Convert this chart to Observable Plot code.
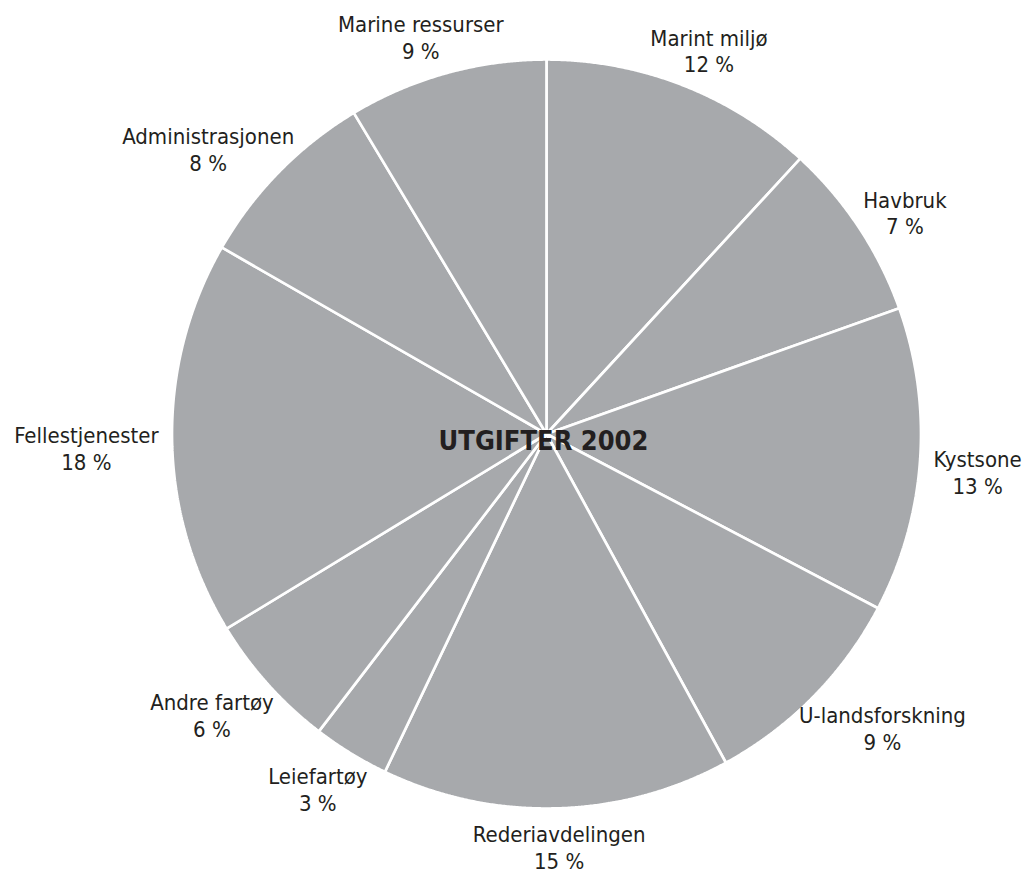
<!DOCTYPE html>
<html>
<head>
<meta charset="utf-8">
<script src="https://cdn.jsdelivr.net/npm/d3@7"></script>
<script src="https://cdn.jsdelivr.net/npm/@observablehq/plot@0.6"></script>
<style>
  html, body { margin: 0; padding: 0; background: #fff; }
  g[aria-label="title"] text { letter-spacing: 2.5px; }
</style>
</head>
<body>
<div id="chart"></div>
<script>
// ---- data (clockwise from 12 o'clock) ----
const categories = ["Marint miljø", "Havbruk", "Kystsone", "U-landsforskning", "Rederiavdelingen",
                    "Leiefartøy", "Andre fartøy", "Fellestjenester", "Administrasjonen", "Marine ressurser"];
const values = [11.85, 7.7, 13.15, 9.35, 15.05, 3.3, 5.9, 17.0, 8.1, 8.6];   // slice sizes
const shares = [12, 7, 13, 9, 15, 3, 6, 18, 8, 9];                          // printed percentages
const chartTitle = "UTGIFTER 2002";

// ---- layout ----
const W = 1030, H = 879, CX = 546, CY = 433.5, R = 374.5;
const FONT = '"Liberation Sans Narrow", "DejaVu Sans Condensed", sans-serif';
const LABEL_SIZE = 22, LABEL_RADIUS = 388, HALF_BLOCK = 25, LABEL_DY = 9;

const rows = categories.map((name, i) => ({name, value: values[i], share: shares[i]}));
const arcs = d3.pie().sort(null).value(d => d.value)(rows);

// slice outlines in unit-circle space (angle 0 at top, clockwise)
const outline = arcs.flatMap(a => {
  const n = Math.max(2, Math.ceil((a.endAngle - a.startAngle) / 0.004));
  const pts = [{name: a.data.name, x: 0, y: 0}];
  for (let k = 0; k <= n; k++) {
    const t = a.startAngle + (a.endAngle - a.startAngle) * k / n;
    pts.push({name: a.data.name, x: Math.sin(t), y: Math.cos(t)});
  }
  pts.push({name: a.data.name, x: 0, y: 0});
  return pts;
});

// label placement: point on the mid-angle ray just outside the rim,
// shifted outward by the label block's half extents
const ctx = document.createElement("canvas").getContext("2d");
ctx.font = `${LABEL_SIZE}px ${FONT}`;
const labels = arcs.map(a => {
  const mid = (a.startAngle + a.endAngle) / 2;
  const s = Math.sin(mid), c = Math.cos(mid);
  const pct = `${a.data.share} %`;
  const hw = Math.max(ctx.measureText(a.data.name).width, ctx.measureText(pct).width) / 2;
  const px = s * LABEL_RADIUS + hw * s;
  const py = c * LABEL_RADIUS + HALF_BLOCK * c - LABEL_DY * Math.abs(s) ** 2;   // y up in data space
  return {x: px / R, y: py / R, text: `${a.data.name}\n${pct}`};
});

const chart = Plot.plot({
  width: W,
  height: H,
  margin: 0,
  x: {domain: [-1, 1], range: [CX - R, CX + R], axis: null},
  y: {domain: [-1, 1], range: [CY + R, CY - R], axis: null},
  style: {fontFamily: FONT, background: "#fff", overflow: "visible"},
  marks: [
    Plot.line(outline, {x: "x", y: "y", z: "name", fill: "#a7a9ac", stroke: "#fff",
                        strokeWidth: 2.7, strokeLinejoin: "miter"}),
    Plot.text(labels, {x: "x", y: "y", text: "text", fontSize: LABEL_SIZE, lineHeight: 1.22,
                       fill: "#231f20", textAnchor: "middle", lineAnchor: "middle"}),
    Plot.text([{x: 0, y: 0, t: chartTitle}], {x: "x", y: "y", text: "t", fontSize: 27, fontWeight: "bold",
                       fill: "#231f20", dy: 7, dx: -3, ariaLabel: "title"})
  ]
});
document.getElementById("chart").appendChild(chart);
</script>
</body>
</html>
